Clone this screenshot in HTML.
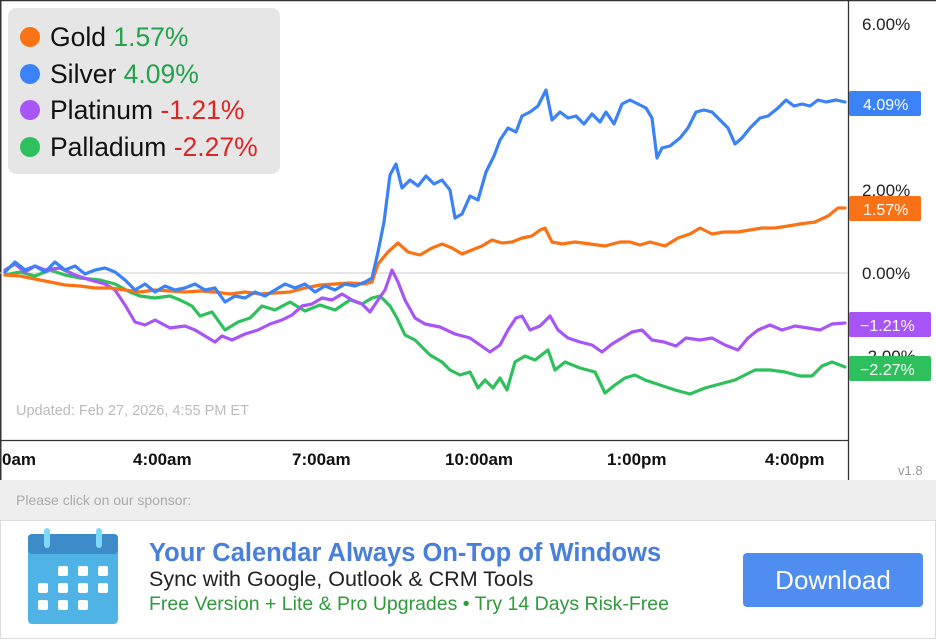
<!DOCTYPE html>
<html><head><meta charset="utf-8"><style>
body{margin:0;width:936px;height:640px;overflow:hidden;background:#fff;font-family:"Liberation Sans",sans-serif;position:relative}
.abs{position:absolute;white-space:nowrap}
</style></head><body>
<svg class="abs" style="left:0;top:0" width="936" height="480">
<rect x="0" y="0" width="936" height="480" fill="#fff"/>
<line x1="0" y1="0.5" x2="936" y2="0.5" stroke="#333" stroke-width="1.5"/>
<line x1="0.75" y1="0" x2="0.75" y2="480" stroke="#333" stroke-width="1.5"/>
<line x1="848.5" y1="0" x2="848.5" y2="480" stroke="#333" stroke-width="1.3"/>
<line x1="0" y1="440.5" x2="848" y2="440.5" stroke="#333" stroke-width="1.3"/>
<line x1="0" y1="273" x2="848" y2="273" stroke="#ccc" stroke-width="1"/>
<g font-size="17" fill="#222">
<text x="862" y="30">6.00%</text>
<text x="862" y="196">2.00%</text>
<text x="862" y="279">0.00%</text>
<text x="862" y="362">-2.00%</text>
</g>
<g fill="none" stroke-width="3.2" stroke-linejoin="round" stroke-linecap="round">
<polyline stroke="#2ec05c" points="5,275 20,272 35,276 50,270 65,275 80,278 100,280 115,284 130,292 140,296 155,298 170,296 180,300 192,306 200,316 212,312 225,330 238,322 250,318 262,306 275,310 290,302 305,311 320,305 335,310 350,300 362,304 372,298 380,296 390,306 397,318 405,335 415,340 430,355 442,362 450,370 460,375 470,372 478,388 485,380 493,388 500,378 507,390 515,362 525,356 535,360 548,350 555,370 565,362 580,368 595,372 605,393 615,385 625,378 635,375 645,380 660,385 675,390 690,394 705,388 720,384 735,380 745,375 755,370 770,370 785,372 800,376 812,376 822,366 832,362 845,367"/>
<polyline stroke="#a855f7" points="5,270 15,264 25,272 35,266 45,270 60,268 75,275 90,280 105,284 115,290 125,305 135,322 145,325 155,320 170,328 185,326 195,330 205,336 215,342 222,336 232,340 245,334 258,330 270,324 282,320 292,315 302,306 312,304 322,298 332,300 342,294 352,300 362,304 370,312 378,300 385,290 392,270 398,282 405,300 415,318 425,324 440,327 455,334 470,338 480,345 490,352 500,345 508,330 516,318 522,316 530,330 540,326 550,316 558,330 568,338 580,342 592,345 602,352 612,344 622,338 632,332 642,330 652,340 664,342 676,346 686,338 700,340 712,338 725,345 738,350 748,338 758,330 770,325 782,330 795,326 808,328 820,330 832,324 845,323"/>
<polyline stroke="#f97316" points="5,275 20,276 35,279 50,282 65,285 80,286 95,288 110,288 125,290 140,292 155,290 170,291 185,292 200,291 215,292 230,294 245,292 260,294 275,293 290,292 305,288 320,285 335,284 350,283 365,284 372,282 378,264 388,252 398,243 408,252 420,255 432,248 442,244 452,248 462,254 472,250 482,246 492,240 502,243 512,242 522,238 532,236 540,230 545,228 552,242 562,244 575,242 590,244 605,246 620,242 630,242 640,245 650,242 665,246 678,238 690,234 700,228 712,234 724,232 738,232 750,230 762,228 775,228 788,226 800,224 815,222 828,216 838,208 845,208"/>
<polyline stroke="#3b82f6" points="5,272 15,262 25,270 35,266 45,272 55,262 65,270 75,266 85,274 95,270 105,268 115,272 125,280 135,290 145,284 155,292 165,286 175,290 185,288 195,284 205,290 215,288 225,302 235,296 245,298 255,292 265,296 275,290 285,284 295,288 305,284 315,292 325,286 335,290 345,284 355,286 365,282 372,278 378,252 384,222 390,175 396,164 402,188 410,180 418,186 426,176 434,184 442,180 450,190 455,218 462,214 470,196 478,200 486,172 494,156 500,140 508,128 516,132 522,116 530,112 538,106 546,90 552,120 560,112 568,118 576,116 584,124 592,114 600,122 606,112 614,124 622,104 630,100 638,104 646,108 652,118 657,158 662,148 670,146 680,138 688,128 696,112 704,110 712,112 720,120 728,128 735,144 742,138 750,128 760,118 768,116 778,108 786,100 794,106 802,104 810,106 818,100 826,102 836,100 845,102"/>
</g>
<g font-size="16" fill="#fff">
<rect x="849" y="91" width="72" height="25" rx="2" fill="#3b82f6"/><text x="863" y="110">4.09%</text>
<rect x="849" y="196" width="72" height="25" rx="2" fill="#f97316"/><text x="863" y="215">1.57%</text>
<rect x="849" y="312" width="82" height="25" rx="2" fill="#a855f7"/><text x="860" y="331">−1.21%</text>
<rect x="849" y="356" width="82" height="25" rx="2" fill="#2ec05c"/><text x="860" y="375">−2.27%</text>
</g>
<g font-size="17" font-weight="bold" fill="#111">
<text x="2" y="465">0am</text>
<text x="133" y="465">4:00am</text>
<text x="292" y="465">7:00am</text>
<text x="445" y="465">10:00am</text>
<text x="607" y="465">1:00pm</text>
<text x="765" y="465">4:00pm</text>
</g>
<text x="898" y="475" font-size="13" fill="#999">v1.8</text>
<text x="16" y="415" font-size="14.5" fill="#bbb">Updated: Feb 27, 2026, 4:55 PM ET</text>
<rect x="8" y="8" width="272" height="166" rx="8" fill="#e6e6e6"/>
<g font-size="26.5">
<circle cx="30" cy="37" r="10" fill="#f97316"/><text x="50" y="46" fill="#111">Gold <tspan fill="#22a34a">1.57%</tspan></text>
<circle cx="30" cy="74" r="10" fill="#3b82f6"/><text x="50" y="83" fill="#111">Silver <tspan fill="#22a34a">4.09%</tspan></text>
<circle cx="30" cy="110" r="10" fill="#a855f7"/><text x="50" y="119" fill="#111">Platinum <tspan fill="#dc2626">-1.21%</tspan></text>
<circle cx="30" cy="147" r="10" fill="#2ec05c"/><text x="50" y="156" fill="#111">Palladium <tspan fill="#dc2626">-2.27%</tspan></text>
</g>
</svg>
<div class="abs" style="left:0;top:480px;width:936px;height:40px;background:#eee;border-bottom:1px solid #ddd"></div>
<div class="abs" style="left:16px;top:492px;font-size:14px;color:#aaa">Please click on our sponsor:</div>
<div class="abs" style="left:0;top:520px;width:934px;height:118px;border:1px solid #ddd;border-top:none"></div>
<svg class="abs" style="left:26px;top:526px" width="96" height="104">
<rect x="2" y="8" width="90" height="90" rx="4" fill="#4fb3e6"/>
<rect x="2" y="8" width="90" height="20" rx="4" fill="#3d8cc9"/>
<rect x="18" y="2" width="6" height="20" rx="3" fill="#7dd9f7"/>
<rect x="70" y="2" width="6" height="20" rx="3" fill="#7dd9f7"/>
<g fill="#fff">
<rect x="32" y="40" width="10" height="10" rx="2"/><rect x="52" y="40" width="10" height="10" rx="2"/><rect x="72" y="40" width="10" height="10" rx="2"/>
<rect x="12" y="57" width="10" height="10" rx="2"/><rect x="32" y="57" width="10" height="10" rx="2"/><rect x="52" y="57" width="10" height="10" rx="2"/><rect x="72" y="57" width="10" height="10" rx="2"/>
<rect x="12" y="74" width="10" height="10" rx="2"/><rect x="32" y="74" width="10" height="10" rx="2"/><rect x="52" y="74" width="10" height="10" rx="2"/>
</g></svg>
<div class="abs" style="left:149px;top:539px;font-size:25.5px;font-weight:bold;color:#4a7fd9">Your Calendar Always On-Top of Windows</div>
<div class="abs" style="left:149px;top:567px;font-size:21.5px;color:#222">Sync with Google, Outlook &amp; CRM Tools</div>
<div class="abs" style="left:149px;top:593px;font-size:19.5px;color:#2e9a3a">Free Version + Lite &amp; Pro Upgrades • Try 14 Days Risk-Free</div>
<div class="abs" style="left:743px;top:553px;width:180px;height:54px;background:#4f8ef0;border-radius:4px;color:#fff;font-size:26px;line-height:54px;text-align:center">Download</div>
</body></html>
